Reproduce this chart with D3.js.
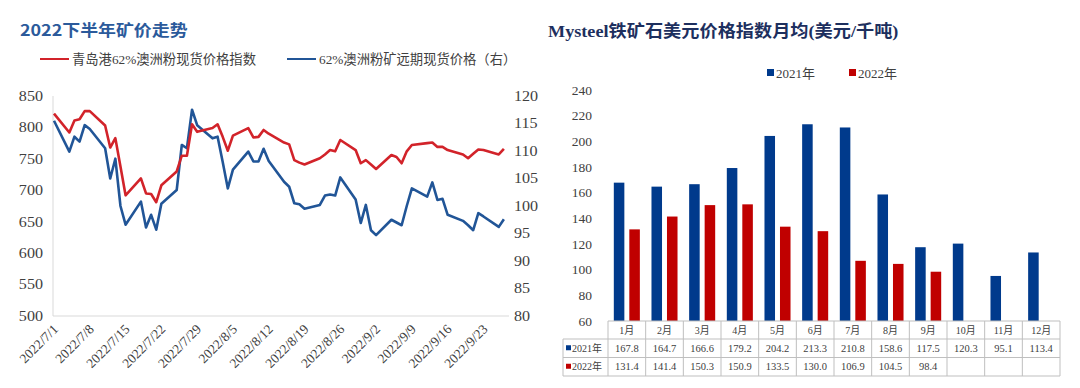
<!DOCTYPE html>
<html><head><meta charset="utf-8">
<script src="https://cdn.jsdelivr.net/npm/d3@7"></script>
<style>body{margin:0;background:#fff}svg{display:block}</style>
</head><body><svg id="c" width="1080" height="388"></svg>
<script>
// ---------- Left chart data ----------
const tradeDates = ["7/1","7/4","7/5","7/6","7/7","7/8","7/11","7/12","7/13","7/14","7/15","7/18","7/19","7/20","7/21","7/22","7/25","7/26","7/27","7/28","7/29",
"8/1","8/2","8/3","8/4","8/5","8/8","8/9","8/10","8/11","8/12","8/15","8/16","8/17","8/18","8/19","8/22","8/23","8/24","8/25","8/26","8/29","8/30","8/31",
"9/1","9/2","9/5","9/6","9/7","9/8","9/9","9/12","9/13","9/14","9/15","9/16","9/19","9/20","9/21","9/22","9/23","9/26","9/27"];
const qingdaoIndex = [822,792,811,813,826,826,803,768,783,738,692,719,695,694,681,708,730,755,755,805,793,
799,805,785,763,787,799,784,785,796,790,776,773,748,744,741,751,757,764,762,780,764,743,748,
741,734,756,753,743,762,772,775,776,769,769,764,757,751,758,765,764,757,766];
const forwardPrice = [115.5,109.9,112.6,111.7,114.7,114.0,110.5,105.0,108.6,100.0,96.6,100.8,96.1,98.4,95.7,100.4,102.9,111.1,110.5,117.5,114.7,
112.3,112.6,108.0,103.2,106.6,109.9,108.1,108.1,110.4,108.2,104.4,103.5,100.5,100.3,99.5,100.2,101.9,102.1,101.9,105.2,101.2,96.9,100.2,
95.6,94.7,97.5,97.0,96.5,100.0,103.2,101.7,104.3,101.1,101.3,98.4,97.3,96.5,95.6,98.7,98.1,96.2,97.6];
const weekTicks = ["2022/7/1","2022/7/8","2022/7/15","2022/7/22","2022/7/29","2022/8/5","2022/8/12","2022/8/19","2022/8/26","2022/9/2","2022/9/9","2022/9/16","2022/9/23"];
const leftTitle = "2022下半年矿价走势";
const leftLegend = ["青岛港62%澳洲粉现货价格指数","62%澳洲粉矿远期现货价格（右）"];

// ---------- Right chart data ----------
const months = ["1月","2月","3月","4月","5月","6月","7月","8月","9月","10月","11月","12月"];
const avg2021 = [167.8,164.7,166.6,179.2,204.2,213.3,210.8,158.6,117.5,120.3,95.1,113.4];
const avg2022 = [131.4,141.4,150.3,150.9,133.5,130.0,106.9,104.5,98.4];
const seriesNames = ["2021年","2022年"];
const rightTitle = "Mysteel铁矿石美元价格指数月均(美元/千吨)";

const RED = "#d2232a", BLUE = "#215597";
const BAR_BLUE = "#003a8c", BAR_RED = "#c00000";
const SERIF = "'Liberation Serif','Noto Sans CJK SC',serif";
const svg = d3.select("#c");

// ================= LEFT CHART =================
const parseT = d3.timeParse("%Y/%m/%d");
const dates = tradeDates.map(s => parseT("2022/" + s));
const x = d3.scaleTime().domain([parseT("2022/7/1"), parseT("2022/9/28")]).range([54, 509]);
const yL = d3.scaleLinear().domain([500, 850]).range([316, 96]);
const yR = d3.scaleLinear().domain([80, 120]).range([316, 96]);

// title
svg.append("text").attr("transform","translate(20,36) scale(1.12,1)")
  .attr("font-family","'Noto Sans CJK SC',sans-serif").attr("font-weight","bold")
  .attr("font-size",16).attr("fill","#2b5a9b").text(leftTitle);

// legend
const lg = [[40, RED, leftLegend[0]], [287, BLUE, leftLegend[1]]];
lg.forEach(([lx, c, t]) => {
  svg.append("line").attr("x1",lx).attr("x2",lx+29).attr("y1",59).attr("y2",59)
    .attr("stroke",c).attr("stroke-width",2);
  svg.append("text").attr("x",lx+32).attr("y",64).attr("font-family",SERIF)
    .attr("font-size",13.3).attr("fill","#404040").text(t);
});

// axes lines
svg.append("line").attr("x1",53).attr("x2",53).attr("y1",96).attr("y2",316).attr("stroke","#d9d9d9");
svg.append("line").attr("x1",53).attr("x2",509).attr("y1",316).attr("y2",316).attr("stroke","#d9d9d9");

// left y ticks
yL.ticks(7).forEach(v => {
  svg.append("text").attr("transform",`translate(43,${yL(v)}) scale(1.15,1)`)
    .attr("dy","0.35em").attr("text-anchor","end").attr("font-family",SERIF)
    .attr("font-size",14).attr("fill","#404040").text(v);
});
// right y ticks
yR.ticks(8).forEach(v => {
  svg.append("text").attr("transform",`translate(514,${yR(v)}) scale(1.15,1)`)
    .attr("dy","0.35em").attr("text-anchor","start").attr("font-family",SERIF)
    .attr("font-size",14).attr("fill","#404040").text(v);
});
// x tick labels
weekTicks.forEach(s => {
  const d = parseT(s);
  svg.append("text").attr("transform",`translate(${x(d)+5},330) rotate(-45)`)
    .attr("text-anchor","end").attr("font-family",SERIF)
    .attr("font-size",13.5).attr("fill","#404040").text(s);
});

// lines
const lineL = d3.line().x((d,i) => x(dates[i])).y(d => yL(d));
const lineR = d3.line().x((d,i) => x(dates[i])).y(d => yR(d));
svg.append("path").datum(forwardPrice).attr("d",lineR).attr("fill","none")
  .attr("stroke",BLUE).attr("stroke-width",2.6).attr("stroke-linejoin","round");
svg.append("path").datum(qingdaoIndex).attr("d",lineL).attr("fill","none")
  .attr("stroke",RED).attr("stroke-width",2.6).attr("stroke-linejoin","round");

// ================= RIGHT CHART =================
svg.append("text").attr("transform","translate(548,37) scale(1.07,1)")
  .attr("font-family",SERIF).attr("font-weight","bold")
  .attr("font-size",17).attr("fill","#1d2f5e").text(rightTitle);

const xb = d3.scaleBand().domain(months).range([608, 1060]);
const xs = d3.scaleBand().domain(seriesNames).range([0, xb.bandwidth()]).paddingInner(0.32).paddingOuter(0.375);
const yb = d3.scaleLinear().domain([60, 240]).range([321, 90]);

// legend
[[767, BAR_BLUE, seriesNames[0]], [849, BAR_RED, seriesNames[1]]].forEach(([lx,c,t]) => {
  svg.append("rect").attr("x",lx).attr("y",69).attr("width",7).attr("height",7).attr("fill",c);
  svg.append("text").attr("x",lx+9).attr("y",78).attr("font-family",SERIF)
    .attr("font-size",13).attr("fill","#404040").text(t);
});

// y ticks
yb.ticks(9).forEach(v => {
  svg.append("text").attr("x",592).attr("y",yb(v)).attr("dy","0.35em")
    .attr("text-anchor","end").attr("font-family",SERIF).attr("font-size",13.5)
    .attr("fill","#404040").text(v);
});

// bars
svg.append("g").selectAll("rect").data(avg2021).join("rect")
  .attr("x",(d,i) => xb(months[i]) + xs(seriesNames[0])).attr("width",xs.bandwidth())
  .attr("y",d => yb(d)).attr("height",d => yb(60) - yb(d)).attr("fill",BAR_BLUE);
svg.append("g").selectAll("rect").data(avg2022).join("rect")
  .attr("x",(d,i) => xb(months[i]) + xs(seriesNames[1])).attr("width",xs.bandwidth())
  .attr("y",d => yb(d)).attr("height",d => yb(60) - yb(d)).attr("fill",BAR_RED);

// data table
const T = svg.append("g");
const gridC = "#bfbfbf";
const r0 = 321, r1 = 339, r2 = 357.5, r3 = 376, lx0 = 563;
T.append("line").attr("x1",608).attr("x2",1060).attr("y1",r0).attr("y2",r0).attr("stroke",gridC);
[r1, r2, r3].forEach(yy => T.append("line").attr("x1",lx0).attr("x2",1060).attr("y1",yy).attr("y2",yy).attr("stroke",gridC));
T.append("line").attr("x1",lx0).attr("x2",lx0).attr("y1",r1).attr("y2",r3).attr("stroke",gridC);
months.forEach((m,i) => {
  const cx = xb(m);
  T.append("line").attr("x1",cx).attr("x2",cx).attr("y1",r0).attr("y2",r3).attr("stroke",gridC);
  T.append("text").attr("x",cx + xb.bandwidth()/2).attr("y",(r0+r1)/2).attr("dy","0.35em")
    .attr("text-anchor","middle").attr("font-family",SERIF).attr("font-size",10)
    .attr("fill","#404040").text(m);
});
T.append("line").attr("x1",1060).attr("x2",1060).attr("y1",r0).attr("y2",r3).attr("stroke",gridC);
avg2021.forEach((v,i) => {
  T.append("text").attr("x",xb(months[i]) + xb.bandwidth()/2).attr("y",(r1+r2)/2).attr("dy","0.35em")
    .attr("text-anchor","middle").attr("font-family",SERIF).attr("font-size",10.5)
    .attr("fill","#404040").text(v.toFixed(1));
});
avg2022.forEach((v,i) => {
  T.append("text").attr("x",xb(months[i]) + xb.bandwidth()/2).attr("y",(r2+r3)/2).attr("dy","0.35em")
    .attr("text-anchor","middle").attr("font-family",SERIF).attr("font-size",10.5)
    .attr("fill","#404040").text(v.toFixed(1));
});
[[r1, r2, BAR_BLUE, seriesNames[0]], [r2, r3, BAR_RED, seriesNames[1]]].forEach(([a,b,c,t]) => {
  const cy = (a+b)/2;
  T.append("rect").attr("x",566).attr("y",cy-3).attr("width",5).attr("height",5).attr("fill",c);
  T.append("text").attr("x",572).attr("y",cy).attr("dy","0.35em").attr("font-family",SERIF)
    .attr("font-size",10).attr("fill","#404040").text(t);
});
</script></body></html>
